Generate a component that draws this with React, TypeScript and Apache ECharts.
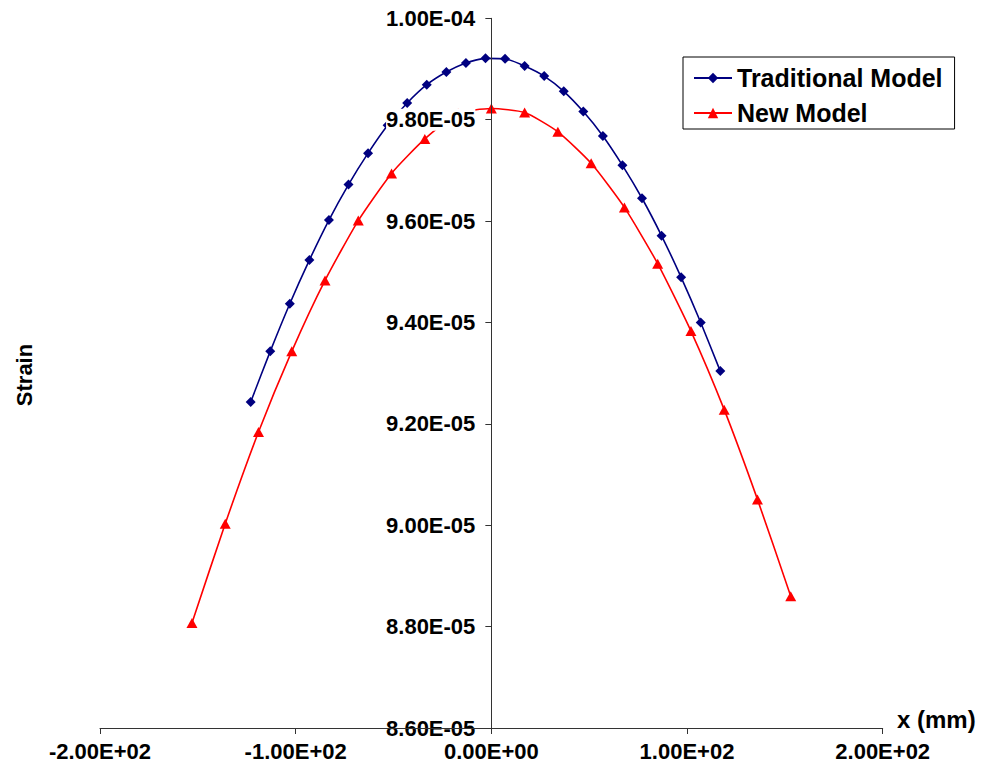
import React, { useEffect, useRef } from "react";
import * as echarts from "echarts";

// Position along the beam (mm) and computed strain for each model
const traditionalX = [-123, -113, -103, -93, -83, -73, -63, -53, -43, -33, -23, -13, -3, 7, 17, 27, 37, 47, 57, 67, 77, 87, 97, 107, 117];
const traditionalStrain = [
  9.243e-5, 9.343e-5, 9.437e-5, 9.523e-5, 9.602e-5, 9.672e-5, 9.734e-5, 9.789e-5, 9.833e-5, 9.869e-5,
  9.894e-5, 9.912e-5, 9.921e-5, 9.92e-5, 9.906e-5, 9.886e-5, 9.856e-5, 9.816e-5, 9.768e-5, 9.71e-5,
  9.645e-5, 9.571e-5, 9.489e-5, 9.4e-5, 9.304e-5,
];

const newX = [-153, -136, -119, -102, -85, -68, -51, -34, -17, 0, 17, 34, 51, 68, 85, 102, 119, 136, 153];
const newStrain = [
  8.807e-5, 9.003e-5, 9.184e-5, 9.343e-5, 9.483e-5, 9.601e-5, 9.694e-5, 9.762e-5, 9.812e-5, 9.822e-5,
  9.814e-5, 9.776e-5, 9.714e-5, 9.627e-5, 9.516e-5, 9.383e-5, 9.228e-5, 9.051e-5, 8.86e-5,
];

const seriesNames = ["Traditional Model", "New Model"];
const xAxisTitle = "x (mm)";
const yAxisTitle = "Strain";

const FONT = "'Liberation Sans', Arial, sans-serif";

// Plot area in pixels
const GRID_LEFT = 100;
const GRID_RIGHT = 100.3;
const CHART_W = 983;
const X_MIN = -200;
const X_MAX = 200;

// Excel-style scientific notation, e.g. 9.80E-05
function sci(v: number): string {
  if (Math.abs(v) < 1e-30) return "0.00E+00";
  const [m, e] = v.toExponential(2).split("e");
  const n = parseInt(e, 10);
  return m + "E" + (n < 0 ? "-" : "+") + String(Math.abs(n)).padStart(2, "0");
}

export default function App() {
  const ref = useRef<HTMLDivElement>(null);

  useEffect(() => {
    if (!ref.current) return;
    const chart = echarts.init(ref.current, undefined, { renderer: "svg" });

    const labelStyle = { fontFamily: FONT, fontSize: 22, fontWeight: "bold" as const, color: "#000" };

    // the vertical axis crosses the horizontal one at x = 0
    const plotW = CHART_W - GRID_LEFT - GRID_RIGHT;
    const zeroOffset = (plotW * (0 - X_MIN)) / (X_MAX - X_MIN);

    chart.setOption({
      animation: false,
      backgroundColor: "#fff",
      grid: {
        left: GRID_LEFT,
        right: GRID_RIGHT,
        top: 18.3,
        bottom: 52,
        containLabel: false,
        outerBoundsMode: "none",
      },
      xAxis: {
        type: "value",
        min: X_MIN,
        max: X_MAX,
        interval: 100,
        z: 4,
        axisLine: { onZero: false, lineStyle: { color: "#333", width: 1 } },
        axisTick: { show: true, length: 6, inside: false, lineStyle: { color: "#333" } },
        splitLine: { show: false },
        axisLabel: { ...labelStyle, margin: 12, formatter: (v: number) => sci(v) },
      },
      yAxis: {
        type: "value",
        min: 8.6e-5,
        max: 1.0e-4,
        interval: 2e-6,
        position: "left",
        offset: -zeroOffset,
        z: 3,
        axisLine: { show: true, onZero: false, lineStyle: { color: "#333", width: 1 } },
        axisTick: { show: true, length: 6, lineStyle: { color: "#333" } },
        splitLine: { show: false },
        axisLabel: {
          ...labelStyle,
          margin: 16,
          backgroundColor: "#fff",
          formatter: (v: number) => sci(v),
        },
      },
      legend: {
        orient: "vertical",
        left: 683,
        top: 57,
        padding: [8, 12, 3, 10],
        itemWidth: 38,
        itemHeight: 13,
        itemGap: 9,
        borderColor: "#000",
        borderWidth: 1,
        backgroundColor: "#fff",
        textStyle: { ...labelStyle, fontSize: 25, lineHeight: 26 },
        data: seriesNames,
      },
      series: [
        {
          name: seriesNames[0],
          type: "line",
          data: traditionalX.map((x, i) => [x, traditionalStrain[i]]),
          symbol: "diamond",
          symbolSize: 10,
          smooth: 0.2,
          color: "#000080",
          lineStyle: { color: "#000080", width: 1.6 },
          itemStyle: { color: "#000080" },
          z: 2,
        },
        {
          name: seriesNames[1],
          type: "line",
          data: newX.map((x, i) => [x, newStrain[i]]),
          symbol: "triangle",
          symbolSize: [11, 10],
          smooth: 0.2,
          color: "#ff0000",
          lineStyle: { color: "#ff0000", width: 1.6 },
          itemStyle: { color: "#ff0000" },
          z: 2,
        },
      ],
      graphic: [
        {
          type: "text",
          x: 897,
          y: 719,
          style: {
            text: xAxisTitle,
            fontFamily: FONT,
            fontSize: 24,
            fontWeight: "bold",
            fill: "#000",
            textAlign: "left",
            textVerticalAlign: "middle",
          },
        },
        {
          type: "text",
          x: 24,
          y: 375,
          rotation: Math.PI / 2,
          style: {
            text: yAxisTitle,
            fontFamily: FONT,
            fontSize: 22,
            fontWeight: "bold",
            fill: "#000",
            textAlign: "center",
            textVerticalAlign: "middle",
          },
        },
      ],
    });

    return () => chart.dispose();
  }, []);

  return (
    <div
      ref={ref}
      style={{ position: "absolute", left: 0, top: 0, width: CHART_W, height: 780 }}
    />
  );
}
